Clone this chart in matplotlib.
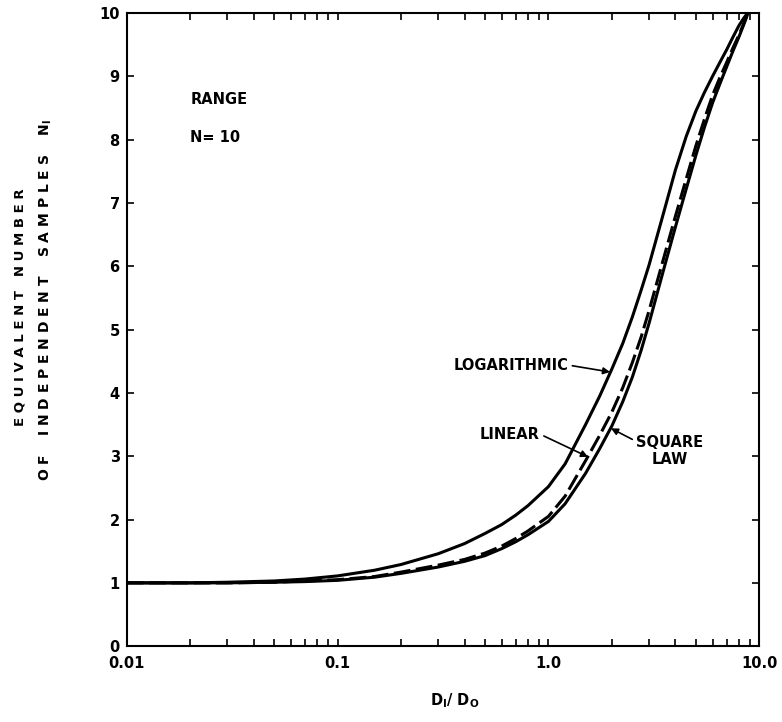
import numpy as np
import matplotlib.pyplot as plt
from matplotlib.ticker import FixedLocator, NullFormatter

# --- Data (D1/D0 vs equivalent number of samples) ---
ratio = [0.01, 0.02, 0.03, 0.05, 0.07, 0.1, 0.15, 0.2, 0.3, 0.4, 0.5, 0.6, 0.7, 0.8,
         1.0, 1.2, 1.5, 1.75, 2.0, 2.25, 2.5, 2.75, 3.0, 3.5, 4.0, 4.5, 5.0, 5.5,
         6.0, 6.5, 7.0, 7.5, 8.0, 8.4, 8.8]
n_log = [1.00, 1.00, 1.01, 1.03, 1.06, 1.11, 1.20, 1.29, 1.46, 1.62, 1.78, 1.92, 2.07, 2.22,
         2.52, 2.88, 3.50, 3.95, 4.38, 4.78, 5.20, 5.62, 6.02, 6.82, 7.52, 8.05, 8.45, 8.75,
         9.00, 9.22, 9.42, 9.62, 9.80, 9.91, 10.0]
n_lin = [1.00, 1.00, 1.00, 1.01, 1.03, 1.05, 1.10, 1.17, 1.28, 1.37, 1.47, 1.58, 1.70, 1.82,
         2.05, 2.37, 2.93, 3.33, 3.70, 4.08, 4.48, 4.88, 5.30, 6.10, 6.79, 7.38, 7.90, 8.33,
         8.70, 8.98, 9.22, 9.45, 9.65, 9.82, 9.98]
n_sq = [1.00, 1.00, 1.00, 1.01, 1.02, 1.04, 1.09, 1.15, 1.25, 1.34, 1.43, 1.54, 1.65, 1.76,
        1.97, 2.25, 2.73, 3.12, 3.48, 3.86, 4.25, 4.67, 5.10, 5.92, 6.62, 7.22, 7.75, 8.20,
        8.58, 8.88, 9.15, 9.40, 9.62, 9.80, 9.98]

x_ticks = [0.01, 0.1, 1.0, 10.0]
x_tick_labels = ["0.01", "0.1", "1.0", "10.0"]
y_ticks = list(range(0, 11))

bold = dict(fontweight="bold", color="black")

fig = plt.figure(figsize=(7.82, 7.22), dpi=100)
ax = fig.add_axes([0.162, 0.105, 0.809, 0.877])

ax.plot(ratio, n_log, color="black", lw=2.2)
ax.plot(ratio, n_lin, color="black", lw=2.2, dashes=(5.5, 1.8))
ax.plot(ratio, n_sq, color="black", lw=2.2)

ax.set_xscale("log")
ax.set_xlim(0.01, 10)
ax.set_ylim(0, 10)

# ticks inward on all four sides
ax.xaxis.set_major_locator(FixedLocator(x_ticks))
ax.set_xticklabels(x_tick_labels, fontsize=10.5, fontweight="bold")
minor = [m * d for d in (0.01, 0.1, 1.0) for m in range(2, 10)]
ax.xaxis.set_minor_locator(FixedLocator(minor))
ax.xaxis.set_minor_formatter(NullFormatter())
ax.set_yticks(y_ticks)
ax.set_yticklabels([str(v) for v in y_ticks], fontsize=10.5, fontweight="bold")
ax.tick_params(which="both", direction="in", top=True, right=True, length=5, width=1.2)
ax.tick_params(axis="x", pad=7)
ax.tick_params(axis="y", pad=5)
for s in ax.spines.values():
    s.set_linewidth(1.5)

# labels
fig.text(0.026, 0.575, "E Q U I V A L E N T   N U M B E R", rotation=90, ha="center",
         va="center", fontsize=9.5, **bold)
fig.text(0.058, 0.584, "O F    I N D E P E N D E N T    S A M P L E S    N$_\\mathbf{I}$",
         rotation=90, ha="center", va="center", fontsize=10, **bold)
fig.text(0.582, 0.03, "D$_\\mathbf{I}$/ D$_\\mathbf{O}$", ha="center", va="center",
         fontsize=10.5, **bold)

ax.text(0.02, 8.63, "RANGE", ha="left", va="center", fontsize=10.5, **bold)
ax.text(0.02, 8.03, "N= 10", ha="left", va="center", fontsize=10.5, **bold)

arrow = dict(arrowstyle="-|>", color="black", lw=1.2, mutation_scale=10, shrinkA=1, shrinkB=0)
ax.annotate("LOGARITHMIC", xy=(1.96, 4.33), xytext=(1.24, 4.44), ha="right", va="center",
            fontsize=10.5, arrowprops=dict(arrow, relpos=(1, 0.5)), **bold)
ax.annotate("LINEAR", xy=(1.54, 2.99), xytext=(0.91, 3.35), ha="right", va="center",
            fontsize=10.5, arrowprops=dict(arrow, relpos=(1, 0.5)), **bold)
ax.annotate("SQUARE\nLAW", xy=(1.98, 3.44), xytext=(2.61, 3.08), ha="left", va="center",
            multialignment="center", fontsize=10.5,
            arrowprops=dict(arrow, relpos=(0, 0.8)), **bold)

fig.savefig("out.png", dpi=100)
